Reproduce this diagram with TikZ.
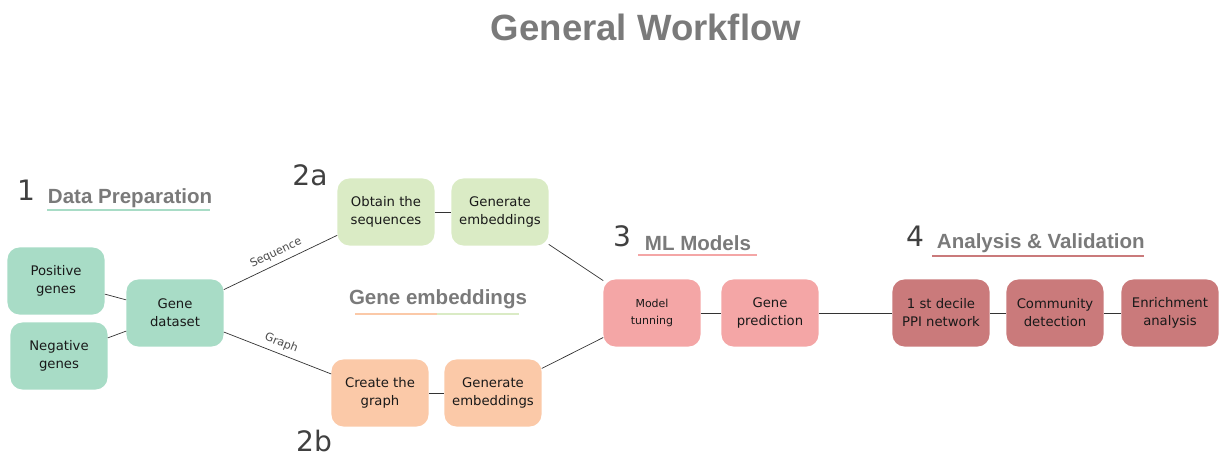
\documentclass[tikz,border=0pt]{standalone}
\usepackage{fontspec}
\setmainfont{DejaVu Sans}
\newfontfamily\headfont{Liberation Sans}
\definecolor{mint}{HTML}{A8DCC6}
\definecolor{palegreen}{HTML}{DAEBC5}
\definecolor{peach}{HTML}{FBC9A8}
\definecolor{pinkbox}{HTML}{F4A6A6}
\definecolor{rosebox}{HTML}{CA7A7B}
\definecolor{headgray}{HTML}{7A7A7A}

\begin{document}
\begin{tikzpicture}[x=0.025cm,y=-0.025cm,
	box/.style={rectangle,rounded corners=0.3cm,minimum width=2.425cm,minimum height=1.675cm,inner sep=1pt,align=center,text=black!90,font=\fontsize{9.4}{12.8}\selectfont},
	link/.style={draw=black!80,line width=0.5pt},
	head/.style={anchor=west,text=headgray,font=\headfont\bfseries\fontsize{14.6}{16}\selectfont},
	num/.style={text=black!75,font=\fontsize{20}{22}\selectfont},
	bar/.style={line width=2pt},
	lbl/.style={sloped,above,text=black!70,font=\fontsize{8}{9}\selectfont}]
	\useasboundingbox (0,0) rectangle (1219,457);

	\node[text=headgray,font=\headfont\bfseries\fontsize{26}{28}\selectfont] (title) at (646,27){General Workflow};

	% 1: data preparation
	\node[num] (n1) at (26,190){1};
	\node[head] (hdp) at (43,198){Data Preparation};
	\draw[bar,mint] (47,210) -- (210,210);
	\node[box,fill=mint] (pos) at (56,281){Positive\\genes};
	\node[box,fill=mint] (neg) at (59,356){Negative\\genes};
	\node[box,fill=mint] (ds) at (175,313){Gene\\dataset};

	% 2: gene embeddings
	\node[num] (n2a) at (310,175){2a};
	\node[num] (n2b) at (314,441){2b};
	\node[box,fill=palegreen] (obt) at (386,212){Obtain the\\sequences};
	\node[box,fill=palegreen] (embs) at (500,212){Generate\\embeddings};
	\node[box,fill=peach] (cg) at (380,393){Create the\\graph};
	\node[box,fill=peach] (embg) at (493,393){Generate\\embeddings};
	\node[text=headgray,font=\headfont\bfseries\fontsize{14.6}{16}\selectfont] (hge) at (438,299){Gene embeddings};
	\draw[bar,peach] (355,314) -- (437,314);
	\draw[bar,palegreen] (437,314) -- (519,314);

	% 3: ML models
	\node[num] (n3) at (622,236){3};
	\node[head] (hml) at (640,243){ML Models};
	\draw[bar,pinkbox] (638,255) -- (757,255);
	\node[box,fill=pinkbox,font=\fontsize{7.8}{12.5}\selectfont] (mt) at (652,313){Model\\tunning};
	\node[box,fill=pinkbox] (gp) at (770,313){Gene\\prediction};

	% 4: analysis
	\node[num] (n4) at (915,236){4};
	\node[head] (hav) at (932,243){Analysis \& Validation};
	\draw[bar,rosebox] (932,256) -- (1144,256);
	\node[box,fill=rosebox] (dec) at (941,313){1 st decile\\PPI network};
	\node[box,fill=rosebox] (com) at (1055,313){Community\\detection};
	\node[box,fill=rosebox] (enr) at (1170,313){Enrichment\\analysis};

	\draw[link] (pos) -- (ds);
	\draw[link] (neg) -- (ds);
	\draw[link] (ds) -- node[lbl]{Sequence} (obt);
	\draw[link] (ds) -- node[lbl]{Graph} (cg);
	\draw[link] (obt) -- (embs);
	\draw[link] (cg) -- (embg);
	\draw[link] (embs) -- (mt);
	\draw[link] (embg) -- (mt);
	\draw[link] (mt) -- (gp);
	\draw[link] (gp) -- (dec);
	\draw[link] (dec) -- (com);
	\draw[link] (com) -- (enr);
\end{tikzpicture}
\end{document}
